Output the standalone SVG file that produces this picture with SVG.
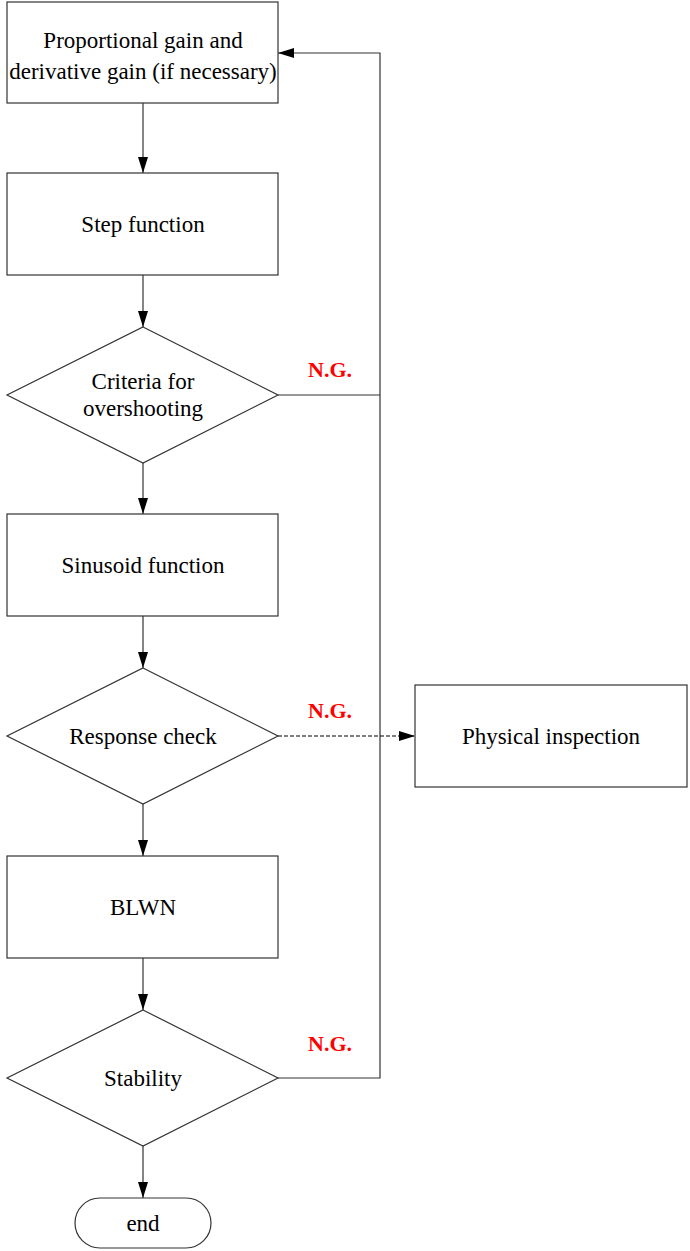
<svg xmlns="http://www.w3.org/2000/svg" width="690" height="1251" viewBox="0 0 690 1251">
  <style>
    .shape { fill: #ffffff; stroke: #333333; stroke-width: 1.2; }
    .lbl { font-family: "Liberation Serif", "Times New Roman", serif; font-size: 23px; fill: #000000; text-anchor: middle; dominant-baseline: central; }
    .ng { font-family: "Liberation Serif", "Times New Roman", serif; font-size: 22px; font-weight: bold; fill: #ff0000; text-anchor: middle; dominant-baseline: central; }
    .wire { fill: none; stroke: #333333; stroke-width: 1.2; }
    .dash { stroke-dasharray: 4 2; stroke: #000000; }
  </style>
  <defs>
    <marker id="arrow" viewBox="0 0 16 10" refX="16" refY="5" markerWidth="16" markerHeight="10" markerUnits="userSpaceOnUse" orient="auto">
      <path d="M0,0 L16,5 L0,10 Z" fill="#000000"/>
    </marker>
  </defs>

  <g id="connectors">
    <line class="wire" x1="143" y1="103" x2="143" y2="173" marker-end="url(#arrow)"/>
    <line class="wire" x1="143" y1="275" x2="143" y2="327" marker-end="url(#arrow)"/>
    <line class="wire" x1="143" y1="463" x2="143" y2="514" marker-end="url(#arrow)"/>
    <line class="wire" x1="143" y1="616" x2="143" y2="668" marker-end="url(#arrow)"/>
    <line class="wire" x1="143" y1="804" x2="143" y2="856" marker-end="url(#arrow)"/>
    <line class="wire" x1="143" y1="958" x2="143" y2="1010" marker-end="url(#arrow)"/>
    <line class="wire" x1="143" y1="1146" x2="143" y2="1198" marker-end="url(#arrow)"/>
    <!-- feedback loop back to the gain block -->
    <polyline class="wire" points="278,1078 380,1078 380,53 278,53" marker-end="url(#arrow)"/>
    <line class="wire" x1="278" y1="395" x2="380" y2="395"/>
    <!-- dashed branch to physical inspection -->
    <line class="wire dash" x1="278" y1="736" x2="415" y2="736" marker-end="url(#arrow)"/>
  </g>

  <g id="gain">
    <rect class="shape" x="7" y="2" width="271" height="101"/>
    <text class="lbl" x="143" y="40">Proportional gain and</text>
    <text class="lbl" x="143" y="71">derivative gain (if necessary)</text>
  </g>

  <g id="step">
    <rect class="shape" x="7" y="173" width="271" height="102"/>
    <text class="lbl" x="143" y="224">Step function</text>
  </g>

  <g id="overshoot">
    <polygon class="shape" points="143,327 278,395 143,463 7,395"/>
    <text class="lbl" x="143" y="381">Criteria for</text>
    <text class="lbl" x="143" y="408">overshooting</text>
  </g>

  <g id="sinusoid">
    <rect class="shape" x="7" y="514" width="271" height="102"/>
    <text class="lbl" x="143" y="565">Sinusoid function</text>
  </g>

  <g id="response">
    <polygon class="shape" points="143,668 278,736 143,804 7,736"/>
    <text class="lbl" x="143" y="736">Response check</text>
  </g>

  <g id="blwn">
    <rect class="shape" x="7" y="856" width="271" height="102"/>
    <text class="lbl" x="143" y="907">BLWN</text>
  </g>

  <g id="stability">
    <polygon class="shape" points="143,1010 278,1078 143,1146 7,1078"/>
    <text class="lbl" x="143" y="1078">Stability</text>
  </g>

  <g id="end">
    <rect class="shape" x="75" y="1198" width="136" height="50" rx="25" ry="25"/>
    <text class="lbl" x="143" y="1223">end</text>
  </g>

  <g id="inspection">
    <rect class="shape" x="415" y="685" width="272" height="102"/>
    <text class="lbl" x="551" y="736">Physical inspection</text>
  </g>

  <g id="ng-labels">
    <text class="ng" x="330" y="369">N.G.</text>
    <text class="ng" x="330" y="710">N.G.</text>
    <text class="ng" x="330" y="1043">N.G.</text>
  </g>
</svg>
